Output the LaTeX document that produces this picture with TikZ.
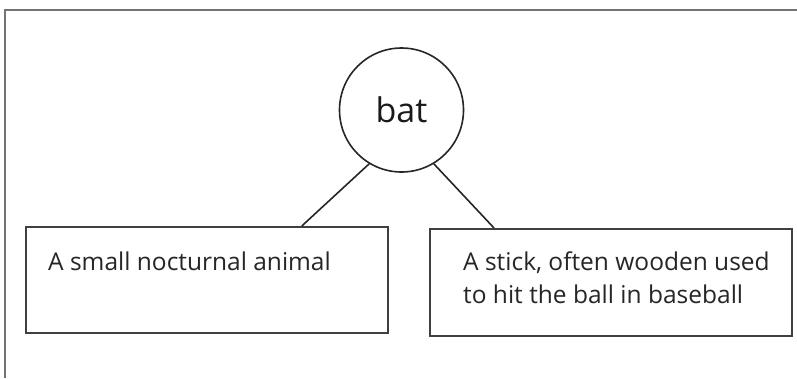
\documentclass[tikz,border=0pt]{standalone}
\usepackage{fontspec}
\setmainfont{Open Sans}
\begin{document}
\begin{tikzpicture}[x=1pt,y=-1pt,
  boxshape/.style={draw=black!75, line width=1.8pt, rectangle, inner sep=0pt},
  boxtext/.style={anchor=base west, inner sep=0pt, font=\fontsize{24.5}{33}\selectfont, align=left, text=black!85},
  link/.style={draw=black!85, line width=1.6pt}]
\useasboundingbox (0,0) rectangle (797,378);
\fill[white] (0,0) rectangle (797,378);
% frame
\draw[black!55, line width=2.6pt] (5,378) -- (5,10) -- (797,10);
% central circle
\node[circle, draw=black!85, line width=1.6pt, minimum size=124pt, inner sep=0pt,
      font=\fontsize{34}{40}\selectfont, text=black!90] (bat) at (401.5,110) {bat};
% boxes
\node[boxshape, minimum width=362pt, minimum height=106pt, anchor=north west] (lbox) at (25,226) {};
\node[boxshape, minimum width=362pt, minimum height=107pt, anchor=north west] (rbox) at (429,228) {};
\node[boxtext] (ltext) at (48,270) {A small nocturnal animal};
\node[boxtext] (rtext) at (463,303) {A stick, often wooden used\\to hit the ball in baseball};
% connectors
\coordinate (lend) at ([xshift=-87pt]lbox.north east);
\coordinate (rend) at ([xshift=65pt]rbox.north west);
\draw[link] (bat.239) -- (lend);
\draw[link] (bat.301) -- (rend);
\end{tikzpicture}
\end{document}
